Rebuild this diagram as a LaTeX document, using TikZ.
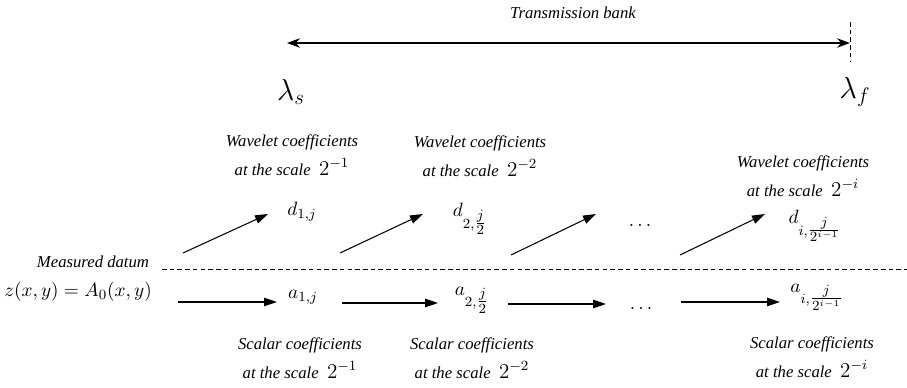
\documentclass[tikz,border=0pt]{standalone}
\usepackage{amsmath}
\usepackage{fontspec}
\setmainfont{Liberation Serif}
\usepackage{tikz}
\usetikzlibrary{arrows.meta,positioning}
\newcommand{\sfr}[2]{\genfrac{}{}{}{1}{#1}{#2}}
\newcommand{\scl}[1]{{\fontsize{12}{16.5}\selectfont$2^{#1}$}}
\tikzset{
  note/.style   = {font=\itshape\fontsize{9.5}{16.5}\selectfont, align=center, inner sep=0pt},
  coef/.style   = {font=\fontsize{11}{13}\selectfont, inner sep=0pt},
  lam/.style    = {font=\LARGE, inner sep=0pt},
  sig/.style    = {-{Triangle[length=2.6mm,width=1.7mm]}, line width=0.6pt},
  band/.style   = {{Stealth[length=2.6mm,width=1.9mm]}-{Stealth[length=2.6mm,width=1.9mm]}, line width=0.6pt},
  datum/.style  = {line width=0.5pt, dash pattern=on 2.6pt off 1.8pt},
}
\begin{document}
\begin{tikzpicture}[x=0.02cm,y=-0.02cm]
\useasboundingbox (0,0) rectangle (907,388);
% transmission bank
\node[note] (title) at (573,13) {Transmission bank};
\coordinate (bankL) at (287,43);
\coordinate (bankR) at (850,43);
\coordinate (markT) at (850,22);
\coordinate (markB) at (850,62);
\draw[band] (bankL) -- (bankR);
\draw[datum] (markT) -- (markB);
\node[lam] (lams) at (291,92) {$\lambda_s$};
\node[lam] (lamf) at (855,92) {$\lambda_f$};
% wavelet coefficients
\node[note] (wav1) at (292,155) {Wavelet coefficients\\at the scale\enspace\scl{-1}};
\node[note] (wav2) at (480,156) {Wavelet coefficients\\at the scale\enspace\scl{-2}};
\node[note] (wav3) at (803,176) {Wavelet coefficients\\at the scale\enspace\scl{-i}};
\node[coef] (d1) at (302,212) {$d_{1,j}$};
\node[coef] (d2) at (470,219) {$d_{2,\sfr{j}{2}}$};
\node[coef] (di) at (815,226) {$d_{i,\sfr{j}{2^{i-1}}}$};
\node[coef] (dotsU) at (640,225) {$\ldots$};
% detail arrows
\coordinate (up1) at (183,253);  \coordinate (tip1) at (268,214);
\coordinate (up2) at (340,253);  \coordinate (tip2) at (423,214);
\coordinate (up3) at (511,255);  \coordinate (tip3) at (596,214);
\coordinate (up4) at (680,255);  \coordinate (tip4) at (765,214);
\foreach \k in {1,...,4}
  \draw[sig] (up\k) -- (tip\k);
% measured datum
\node[note] (meas) at (93,262) {Measured datum};
\coordinate (cutL) at (162,269);
\coordinate (cutR) at (907,269);
\draw[datum] (cutL) -- (cutR);
\node[coef] (zeq) at (78,292) {$z(x,y)=A_0(x,y)$};
% scalar coefficients
\node[coef] (a1) at (303,297) {$a_{1,j}$};
\node[coef] (a2) at (472,300) {$a_{2,\sfr{j}{2}}$};
\node[coef] (ai) at (817,297) {$a_{i,\sfr{j}{2^{i-1}}}$};
\node[coef] (dotsL) at (641,308) {$\ldots$};
\coordinate (lo1) at (178,302);  \coordinate (end1) at (277,302);
\coordinate (lo2) at (342,303);  \coordinate (end2) at (438,303);
\coordinate (lo3) at (508,304);  \coordinate (end3) at (606,304);
\coordinate (lo4) at (681,302);  \coordinate (end4) at (780,302);
\foreach \k in {1,...,4}
  \draw[sig] (lo\k) -- (end\k);
\node[note] (sc1) at (300,358) {Scalar coefficients\\at the scale\enspace\scl{-1}};
\node[note] (sc2) at (472,358) {Scalar coefficients\\at the scale\enspace\scl{-2}};
\node[note] (sc3) at (812,357) {Scalar coefficients\\at the scale\enspace\scl{-i}};
\end{tikzpicture}
\end{document}
